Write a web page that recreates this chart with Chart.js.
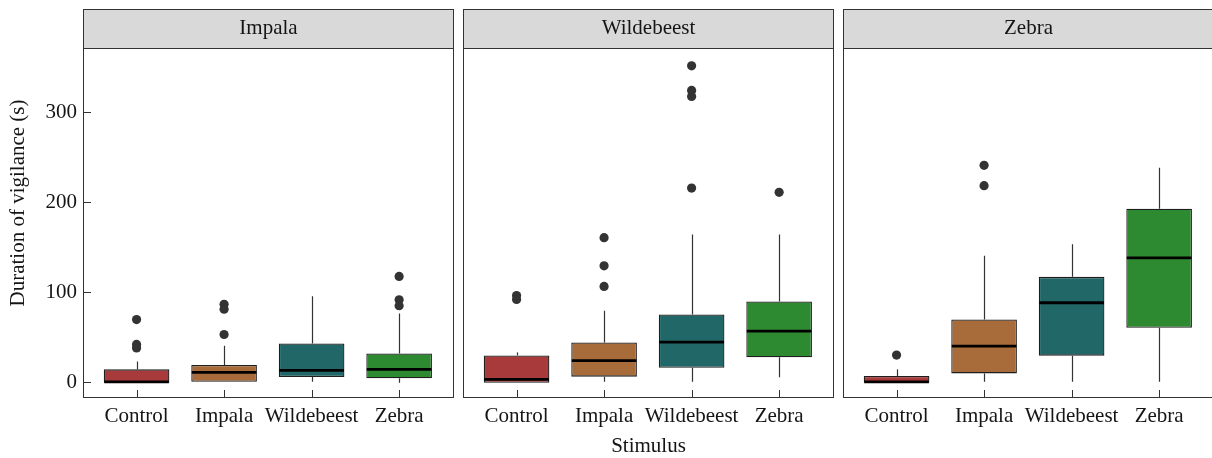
<!DOCTYPE html>
<html><head><meta charset="utf-8">
<script src="https://cdn.jsdelivr.net/npm/chart.js@4"></script>
<style>
html,body{margin:0;padding:0;background:#fff;}
#wrap{position:relative;width:1212px;height:458px;overflow:hidden;background:#fff;}
canvas{position:absolute;top:0;}
</style></head><body>
<div id="wrap">
<canvas id="c0" width="454" height="458" style="left:0px"></canvas>
<canvas id="c1" width="371" height="458" style="left:463px"></canvas>
<canvas id="c2" width="371" height="458" style="left:843px"></canvas>
</div>
<script>
// ---- data ----
const facets = ['Impala', 'Wildebeest', 'Zebra'];
const categories = ['Control', 'Impala', 'Wildebeest', 'Zebra'];
const yTicks = [0, 100, 200, 300];
const colors = ['#A93A3B', '#A86C3B', '#226767', '#2E8A30'];

// one row per facet, one value per stimulus category
const whiskerLow = [[0, 1, 1, 0], [0, 1, 1, 5.9], [0, 1, 1, 1]];
const q1 = [[0, 1, 6.3, 4.8], [0, 6.7, 16.6, 28.1], [0, 10.3, 30, 61]];
const median = [[1, 11.4, 13.7, 14.8], [3.7, 24.4, 45, 57.3], [1, 40.6, 88.7, 138.6]];
const q3 = [[14.8, 19.6, 43.6, 32.5], [30.3, 44.7, 75.7, 90.2], [7.4, 70.2, 117.5, 193.2]];
const whiskerHigh = [[23.5, 41, 96, 76.8], [33.6, 79.8, 164.4, 164.4], [14.8, 141, 153.7, 238.7]];

const outliersImpala = [[70, 42.5, 38.5], [87, 81.5, 53.5], [], [118, 92, 85.5]];
const outliersWildebeest = [[96.8, 92.4], [161, 129.7, 106.8], [351.7, 324.4, 317.7, 216], [211.3]];
const outliersZebra = [[30.7], [241.3, 218.7], [], []];
const outliers = [outliersImpala, outliersWildebeest, outliersZebra];

// ---- styling ----
const FONT = "'Liberation Serif', 'Times New Roman', serif";
const TEXT = '#151515';
const LINE = '#333333';

function noPad(s) {
  s.paddingLeft = 0; s.paddingRight = 0; s.paddingTop = 0; s.paddingBottom = 0;
}

function boxPlugin(f) {
  return {
    id: 'facetBox' + f,
    beforeDatasetsDraw(chart) {
      const ctx = chart.ctx, x = chart.scales.x, y = chart.scales.y;
      ctx.save();
      ctx.strokeStyle = LINE;
      ctx.lineWidth = 1.2;
      categories.forEach((c, i) => {
        const px = Math.round(x.getPixelForValue(i)) + 0.5;
        ctx.beginPath();
        ctx.moveTo(px, y.getPixelForValue(whiskerHigh[f][i]));
        ctx.lineTo(px, y.getPixelForValue(q3[f][i]));
        ctx.moveTo(px, y.getPixelForValue(q1[f][i]));
        ctx.lineTo(px, y.getPixelForValue(whiskerLow[f][i]));
        ctx.stroke();
      });
      ctx.restore();
    },
    afterDatasetsDraw(chart) {
      const ctx = chart.ctx, y = chart.scales.y;
      const meta = chart.getDatasetMeta(0);
      ctx.save();
      ctx.strokeStyle = '#000';
      ctx.lineWidth = 2.8;
      meta.data.forEach((bar, i) => {
        const py = y.getPixelForValue(median[f][i]);
        ctx.beginPath();
        ctx.moveTo(bar.x - bar.width / 2 + 0.5, py);
        ctx.lineTo(bar.x + bar.width / 2 - 0.5, py);
        ctx.stroke();
      });
      ctx.restore();
    },
    afterDraw(chart) {
      const ctx = chart.ctx, ca = chart.chartArea, x = chart.scales.x, y = chart.scales.y;
      ctx.save();
      // panel frame
      ctx.strokeStyle = LINE;
      ctx.lineWidth = 1;
      ctx.strokeRect(ca.left + 0.5, ca.top + 0.5, ca.right - ca.left - 1, ca.bottom - ca.top - 1);
      // inward ticks
      ctx.beginPath();
      categories.forEach((c, i) => {
        const px = Math.round(x.getPixelForValue(i)) + 0.5;
        ctx.moveTo(px, ca.bottom - 1);
        ctx.lineTo(px, ca.bottom - 8);
      });
      if (f === 0) {
        yTicks.forEach(v => {
          const py = Math.round(y.getPixelForValue(v) - 0.5) + 0.5;
          ctx.moveTo(ca.left + 1, py);
          ctx.lineTo(ca.left + 8, py);
        });
      }
      ctx.stroke();
      // facet strip
      ctx.fillStyle = '#D9D9D9';
      ctx.fillRect(ca.left + 0.5, 9.5, ca.right - ca.left - 1, ca.top - 9);
      ctx.strokeRect(ca.left + 0.5, 9.5, ca.right - ca.left - 1, ca.top - 9);
      ctx.fillStyle = TEXT;
      ctx.font = '21px ' + FONT;
      ctx.textAlign = 'center';
      ctx.textBaseline = 'middle';
      ctx.fillText(facets[f], (ca.left + ca.right) / 2, 28);
      // y title
      if (f === 0) {
        ctx.save();
        ctx.translate(24, 203);
        ctx.rotate(-Math.PI / 2);
        ctx.textBaseline = 'alphabetic';
        ctx.fillText('Duration of vigilance (s)', 0, 0);
        ctx.restore();
      }
      ctx.restore();
    }
  };
}

function makeChart(f) {
  const outlierPoints = [];
  outliers[f].forEach((vals, i) => vals.forEach(v => outlierPoints.push({x: i, y: v})));
  const boxes = categories.map((c, i) => ({x: i, y: [q1[f][i], q3[f][i]]}));
  return new Chart(document.getElementById('c' + f), {
    type: 'bar',
    data: {
      datasets: [
        {
          type: 'bar',
          data: boxes,
          backgroundColor: colors,
          borderColor: '#1e1e1e',
          borderWidth: 1.3,
          borderSkipped: false,
          barPercentage: 0.75,
          categoryPercentage: 1
        },
        {
          type: 'line',
          data: outlierPoints,
          showLine: false,
          pointRadius: 4.6,
          pointHoverRadius: 4.6,
          pointBackgroundColor: '#333',
          pointBorderWidth: 0
        }
      ]
    },
    options: {
      responsive: false,
      animation: false,
      layout: {autoPadding: false, padding: {top: 48, left: 0, right: 0, bottom: 0}},
      plugins: {legend: {display: false}, tooltip: {enabled: false}},
      scales: {
        x: {
          type: 'linear',
          offset: false,
          min: -0.612,
          max: 3.627,
          grid: {display: false, drawTicks: false},
          border: {display: false},
          afterBuildTicks: s => { s.ticks = categories.map((c, i) => ({value: i})); },
          afterFit: s => { s.height = 60; noPad(s); },
          ticks: {
            autoSkip: false, maxRotation: 0, minRotation: 0, padding: 6,
            color: TEXT, font: {family: FONT, size: 21},
            callback: v => categories[v]
          },
          title: {
            display: f === 1, text: 'Stimulus', color: TEXT,
            padding: {top: 0, bottom: 1},
            font: {family: FONT, size: 21, lineHeight: 1}
          }
        },
        y: {
          type: 'linear',
          min: -17,
          max: 371.5,
          grid: {display: false, drawTicks: false},
          border: {display: false},
          afterBuildTicks: s => { s.ticks = yTicks.map(v => ({value: v})); },
          afterFit: s => { s.width = f === 0 ? 83 : 0; noPad(s); },
          ticks: {
            display: f === 0, padding: 6,
            color: TEXT, font: {family: FONT, size: 21}
          }
        }
      }
    },
    plugins: [boxPlugin(f)]
  });
}

facets.forEach((name, f) => makeChart(f));
</script>
</body></html>
